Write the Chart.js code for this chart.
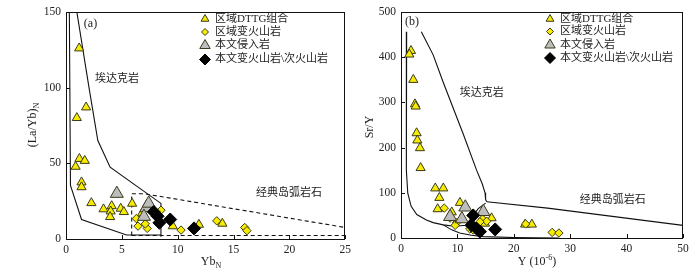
<!DOCTYPE html>
<html>
<head>
<meta charset="utf-8">
<script src="https://cdn.jsdelivr.net/npm/chart.js@4.4.0/dist/chart.umd.min.js"></script>
<style>
  body { margin: 0; background: #fff; }
  #wrap { position: relative; width: 699px; height: 275px; overflow: hidden; }
  canvas { position: absolute; top: 0; }
</style>
</head>
<body>
<div id="wrap">
  <canvas id="chartA" width="355" height="275" style="left:0"></canvas>
  <canvas id="chartB" width="349" height="275" style="left:350px"></canvas>
</div>
<script>
// (a) Yb_N vs (La/Yb)_N
const dttgA = [
  {x:1.18,y:126},{x:1.8,y:87},{x:0.97,y:80},{x:1.2,y:53},{x:1.68,y:51.7},{x:0.86,y:47.8},
  {x:1.39,y:37.5},{x:1.39,y:34.3},{x:2.27,y:23.8},{x:3.36,y:19.7},{x:4.09,y:21.8},{x:4.0,y:18.3},
  {x:3.95,y:14.6},{x:4.9,y:20.1},{x:5.18,y:17.9},{x:5.92,y:23.4},{x:6.8,y:17},{x:9.56,y:8.5},
  {x:11.9,y:9.5},{x:14.0,y:10.2}
];
const volcA = [
  {x:6.3,y:13.5},{x:6.45,y:8.5},{x:7.27,y:7},{x:7.1,y:10},{x:8.5,y:19},{x:10.3,y:5.9},
  {x:13.5,y:12},{x:16.0,y:7.6},{x:16.2,y:5.5}
];
const intrA = [{x:4.55,y:30},{x:7.18,y:20.5},{x:6.98,y:14.8},{x:7.4,y:23.5}];
const blackA = [{x:7.86,y:17.9},{x:8.2,y:15},{x:8.36,y:10.7},{x:9.33,y:12.9},{x:11.46,y:7}];
const adakLineA = [{x:0.97,y:150},{x:2.06,y:100},{x:2.85,y:65},{x:3.95,y:47.4},{x:8.5,y:23.5},{x:8.5,y:1.5}];
const lowLineA = [{x:0.3,y:150},{x:0.4,y:35.4},{x:1.39,y:12.9},{x:5.42,y:2.6},{x:8.5,y:2.6}];
const arcDashA = [{x:5.88,y:2.3},{x:5.88,y:29.9},{x:7,y:29.9},{x:25,y:7.6}];
const arcBaseA = [{x:5.88,y:2.3},{x:25,y:2.3}];
const xTicksA = [0,5,10,15,20,25];
const yTicksA = [0,50,100,150];

// (b) Y vs Sr/Y
const dttgB = [
  {x:1.77,y:414},{x:1.48,y:406},{x:2.18,y:350},{x:2.48,y:296},{x:2.6,y:291},{x:2.77,y:232},
  {x:2.9,y:216},{x:3.36,y:199},{x:3.48,y:155},{x:6.08,y:110},{x:7.5,y:110},{x:6.8,y:89},
  {x:6.5,y:64},{x:10.45,y:78},{x:9.0,y:57},{x:16.06,y:44},{x:14.9,y:32},{x:22,y:30},{x:23.2,y:30}
];
const volcB = [
  {x:7.67,y:66},{x:8.7,y:44},{x:9.86,y:34},{x:9.6,y:28},{x:14.46,y:42},{x:15.2,y:37},
  {x:12.2,y:20},{x:12.8,y:17.5},{x:14,y:35.7},{x:22.1,y:31},{x:26.8,y:12.4},{x:28,y:11}
];
const intrB = [{x:8.7,y:47},{x:10.8,y:42},{x:11.4,y:68},{x:14.6,y:58}];
const blackB = [{x:12.8,y:50},{x:12.5,y:28},{x:13.4,y:21},{x:14.0,y:14},{x:16.7,y:19}];
const outerLineB = [
  {x:1.0,y:456},{x:0.9,y:300},{x:1.0,y:150},{x:1.2,y:99},{x:1.8,y:70},{x:2.8,y:52},
  {x:4.5,y:40},{x:5.7,y:34},{x:7.5,y:29},{x:9.5,y:26},{x:11.5,y:28},{x:12.8,y:50},
  {x:13.7,y:65},{x:15.0,y:77}
];
const adakLineB = [
  {x:3.6,y:456},{x:5.7,y:405},{x:7.5,y:344},{x:11,y:231},{x:13.4,y:150},{x:14.4,y:120},
  {x:14.9,y:100},{x:15.0,y:85},{x:15.2,y:80}
];
const arcTopB = [{x:15.2,y:80},{x:26,y:66},{x:50,y:28}];
const arcBaseB = [{x:7.5,y:29},{x:9,y:18},{x:10.4,y:11},{x:12.5,y:6},{x:14.6,y:3},{x:20,y:1},{x:28,y:0}];
const xTicksB = [0,10,20,30,40,50];
const yTicksB = [0,100,200,300,400,500];

const legendItems = ['区域DTTG组合', '区域变火山岩', '本文侵入岩', '本文变火山岩\\次火山岩'];

const SERIF = '"Liberation Serif", "Times New Roman", "Noto Sans CJK SC", serif';
const YELLOW = '#f7ec00';
const EDGE = '#3a3a1a';

function pointSet(data, style, fill, r) {
  return { data: data, pointStyle: style, backgroundColor: fill, borderColor: fill === '#000' ? '#000' : EDGE,
           borderWidth: 1, pointRadius: r, showLine: false };
}
function lineSet(data, dashed) {
  return { data: data, showLine: true, pointRadius: 0, borderColor: '#111', borderWidth: 1.1,
           borderDash: dashed ? [4, 3] : [], fill: false, tension: 0 };
}

const framePlugin = {
  id: 'frame',
  afterDraw(chart, args, opts) {
    const ctx = chart.ctx, a = chart.chartArea;
    const xs = chart.scales.x, ys = chart.scales.y;
    ctx.save();
    ctx.strokeStyle = '#111';
    ctx.lineWidth = 1;
    ctx.strokeRect(Math.round(a.left) + 0.5, Math.round(a.top) + 0.5, Math.round(a.right - a.left) - 1, Math.round(a.bottom - a.top));
    ctx.beginPath();
    opts.xTicks.forEach(v => {
      const px = Math.round(xs.getPixelForValue(v)) + 0.5;
      ctx.moveTo(px, a.bottom); ctx.lineTo(px, a.bottom - 4);
    });
    opts.yTicks.forEach(v => {
      const py = Math.round(ys.getPixelForValue(v)) + 0.5;
      ctx.moveTo(a.left, py); ctx.lineTo(a.left + 4, py);
    });
    ctx.stroke();

    // texts
    ctx.fillStyle = '#222';
    ctx.textBaseline = 'middle';
    opts.texts.forEach(t => {
      ctx.font = t.size + 'px ' + SERIF;
      ctx.textAlign = 'left';
      ctx.fillText(t.text, xs.getPixelForValue(t.x), ys.getPixelForValue(t.y));
    });

    // legend
    const L = opts.legend;
    const styles = [
      ['triangle', YELLOW, 4.5], ['rectRot', YELLOW, 3.5], ['triangle', '#bdbdbd', 6], ['rectRot', '#000', 5.5]
    ];
    legendItems.forEach((lab, i) => {
      const y = L.y + L.dy[i];
      ctx.fillStyle = styles[i][1];
      ctx.strokeStyle = styles[i][1] === '#000' ? '#000' : EDGE;
      ctx.lineWidth = 1;
      Chart.helpers.drawPoint(ctx, { pointStyle: styles[i][0], radius: styles[i][2], rotation: 0, borderWidth: 1 }, L.x, y);
      ctx.fillStyle = '#222';
      ctx.font = '11px ' + SERIF;
      ctx.textAlign = 'left';
      ctx.fillText(lab, L.x + 10, y);
    });

    // axis titles
    const T = opts.titles;
    drawSub(ctx, T.xMain, T.xSub, T.xSup, T.xPos[0], T.xPos[1], false);
    drawSub(ctx, T.yMain, T.ySub, null, T.yPos[0], T.yPos[1], true);
    ctx.restore();
  }
};

function drawSub(ctx, main, sub, sup, cx, cy, rotate) {
  ctx.save();
  ctx.translate(cx, cy);
  if (rotate) ctx.rotate(-Math.PI / 2);
  ctx.font = '12px ' + SERIF;
  const w1 = ctx.measureText(main).width;
  ctx.font = '8px ' + SERIF;
  const w2 = sub ? ctx.measureText(sub).width : 0;
  const w3 = sup ? ctx.measureText(sup).width : 0;
  const tail = sup ? ')' : '';
  ctx.font = '12px ' + SERIF;
  const w4 = tail ? ctx.measureText(tail).width : 0;
  let x = -(w1 + w2 + w3 + w4) / 2;
  ctx.textAlign = 'left';
  ctx.textBaseline = 'middle';
  ctx.fillStyle = '#222';
  ctx.fillText(main, x, 0); x += w1;
  ctx.font = '8px ' + SERIF;
  if (sub) { ctx.fillText(sub, x, 4); x += w2; }
  if (sup) { ctx.fillText(sup, x, -4); x += w3; }
  ctx.font = '12px ' + SERIF;
  if (tail) ctx.fillText(tail, x, 0);
  ctx.restore();
}

function makeChart(id, cfg) {
  return new Chart(document.getElementById(id), {
    type: 'scatter',
    data: {
      datasets: [
        pointSet(cfg.black, 'rectRot', '#000', 6.5),
        pointSet(cfg.intr, 'triangle', '#bdbdbd', 7.5),
        pointSet(cfg.volc, 'rectRot', YELLOW, 4.2),
        pointSet(cfg.dttg, 'triangle', YELLOW, 5.3)
      ].concat(cfg.lines)
    },
    options: {
      responsive: false,
      animation: false,
      events: [],
      layout: { padding: cfg.padding },
      plugins: {
        legend: { display: false },
        tooltip: { enabled: false },
        frame: cfg.frame
      },
      scales: {
        x: {
          type: 'linear', min: cfg.xMin, max: cfg.xMax,
          afterBuildTicks: s => { s.ticks = cfg.xTicks.map(v => ({ value: v })); },
          afterFit: s => { s.height = cfg.xH; },
          grid: { display: false, drawTicks: false },
          border: { display: false },
          ticks: { padding: 4, color: '#222', font: { family: SERIF, size: 11.5 }, maxRotation: 0 }
        },
        y: {
          type: 'linear', min: cfg.yMin, max: cfg.yMax,
          afterBuildTicks: s => { s.ticks = cfg.yTicks.map(v => ({ value: v })); },
          afterFit: s => { s.width = cfg.yW; },
          grid: { display: false, drawTicks: false },
          border: { display: false },
          ticks: { padding: 5, color: '#222', font: { family: SERIF, size: 11.5 } }
        }
      }
    },
    plugins: [framePlugin]
  });
}

makeChart('chartA', {
  dttg: dttgA, volc: volcA, intr: intrA, black: blackA,
  lines: [lineSet(adakLineA), lineSet(lowLineA), lineSet(arcDashA, true), lineSet(arcBaseA, true)],
  xMin: 0, xMax: 25, yMin: 0, yMax: 150, xTicks: xTicksA, yTicks: yTicksA,
  xH: 36, yW: 66, padding: { top: 10, right: 1, left: 0, bottom: 0 },
  frame: {
    xTicks: xTicksA, yTicks: yTicksA,
    texts: [
      { text: '(a)', x: 1.6, y: 142, size: 12 },
      { text: '埃达克岩', x: 2.6, y: 105.5, size: 11 },
      { text: '经典岛弧岩石', x: 17.0, y: 30.5, size: 11 }
    ],
    legend: { x: 205, y: 19, dy: [0, 13, 26.5, 40.5] },
    titles: { xMain: 'Yb', xSub: 'N', xSup: null, xPos: [211, 262], yMain: '(La/Yb)', ySub: 'N', yPos: [33, 125] }
  }
});

makeChart('chartB', {
  dttg: dttgB, volc: volcB, intr: intrB, black: blackB,
  lines: [lineSet(outerLineB), lineSet(adakLineB), lineSet(arcTopB), lineSet(arcBaseB)],
  xMin: 0, xMax: 50, yMin: 0, yMax: 500, xTicks: xTicksB, yTicks: yTicksB,
  xH: 37, yW: 51, padding: { top: 10, right: 16, left: 0, bottom: 0 },
  frame: {
    xTicks: xTicksB, yTicks: yTicksB,
    texts: [
      { text: '(b)', x: 0.7, y: 478, size: 12 },
      { text: '埃达克岩', x: 10.4, y: 320, size: 11 },
      { text: '经典岛弧岩石', x: 31.7, y: 83, size: 11 }
    ],
    legend: { x: 200, y: 19, dy: [0, 12.5, 26, 39] },
    titles: { xMain: 'Y (10', xSub: null, xSup: '-6', xPos: [187, 262], yMain: 'Sr/Y', ySub: null, yPos: [20, 127] }
  }
});
</script>
</body>
</html>
